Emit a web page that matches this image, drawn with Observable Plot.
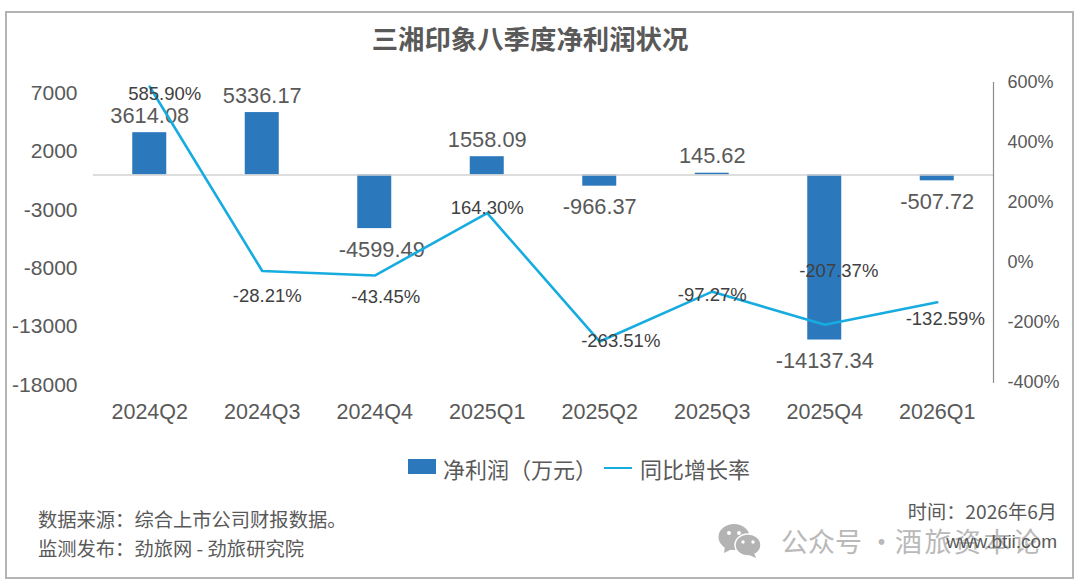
<!DOCTYPE html>
<html lang="zh">
<head>
<meta charset="utf-8">
<script src="https://cdn.jsdelivr.net/npm/d3@7"></script>
<script src="https://cdn.jsdelivr.net/npm/@observablehq/plot@0.6"></script>
<style>
  html, body { margin: 0; padding: 0; background: #fff; }
  #page { position: relative; width: 1080px; height: 584px; overflow: hidden;
    font-family: "Noto Sans CJK SC", "Liberation Sans", sans-serif; color: #595959; }
  #frame { position: absolute; left: 5px; top: 10.5px; width: 1065px; height: 564px; border: 2px solid #b4b4b4; }
  #page svg.plot { position: absolute; left: 0; top: 0; }
  .t { position: absolute; white-space: nowrap; line-height: 1; }
  #title { left: 0; width: 1060px; top: 25px; text-align: center; font-size: 26.4px; font-weight: 700; }
  .sw { position: absolute; }
</style>
</head>
<body>
<div id="page">
  <div id="frame"></div>
  <div id="chart"></div>
  <div class="t" id="title">三湘印象八季度净利润状况</div>

  <div class="sw" style="left:408px;top:459px;width:28px;height:15px;background:#2b78bd"></div>
  <div class="t" style="left:443px;top:457px;font-size:22px">净利润（万元）</div>
  <div class="sw" style="left:604px;top:466.5px;width:28px;height:2.5px;background:#17ace0"></div>
  <div class="t" style="left:640px;top:457px;font-size:22px">同比增长率</div>

  <div class="t" style="left:38px;top:510px;font-size:19.3px">数据来源：综合上市公司财报数据。</div>
  <div class="t" style="left:38px;top:539px;font-size:19.3px">监测发布：劲旅网 - 劲旅研究院</div>

  <svg class="sw" style="left:718px;top:524px" width="44" height="34" viewBox="0 0 44 34">
    <ellipse cx="16" cy="13" rx="15.5" ry="13" fill="#b3b3b3"/>
    <path d="M7 22 L6 29 L14 25 Z" fill="#b3b3b3"/>
    <ellipse cx="30" cy="21" rx="13" ry="11" fill="#b3b3b3" stroke="#fff" stroke-width="1.5"/>
    <path d="M36 29 L38 34 L31 31 Z" fill="#b3b3b3"/>
    <circle cx="11" cy="9" r="2" fill="#fff"/><circle cx="21" cy="9" r="2" fill="#fff"/>
    <circle cx="25" cy="18" r="1.7" fill="#fff"/><circle cx="35" cy="18" r="1.7" fill="#fff"/>
  </svg>
  <div class="t" style="left:781px;top:527px;font-size:27px;color:#b9b9b9"><span style="margin-right:-6px">公众号 · </span><span style="letter-spacing:2.5px">酒旅资本论</span></div>

  <div class="t" style="right:23px;top:502px;font-size:19.2px">时间：2026年6月</div>
  <div class="t" style="right:23px;top:532px;font-size:19px;font-family:'Liberation Sans',sans-serif">www.btii.com</div>
</div>
<script>
// Data
const quarters = ["2024Q2","2024Q3","2024Q4","2025Q1","2025Q2","2025Q3","2025Q4","2026Q1"];
const netProfit = [3614.08, 5336.17, -4599.49, 1558.09, -966.37, 145.62, -14137.34, -507.72];
const growthRate = [585.90, -28.21, -43.45, 164.30, -263.51, -97.27, -207.37, -132.59];
const profitTicks = [7000, 2000, -3000, -8000, -13000, -18000];
const rateTicks = [600, 400, 200, 0, -200, -400];

// Label placement relative to each point, kept apart from the values
const rateLabelNudge = [[15,7],[5,25],[11,22],[0,-5],[21,0],[0,3],[14,-54],[8,17]];
const profitLabelNudge = [[0,-17],[0,-17],[7,21],[0,-17],[0,21],[0,-17],[0,21],[0,21]];

// The right axis shares the left axis' pixel extent
const rateToProfit = d3.scaleLinear([-400, 600], [-17774, 7911]);

const rows = quarters.map((q, i) => ({
  q, profit: netProfit[i], rate: growthRate[i], rateY: rateToProfit(growthRate[i]),
  rateNudge: rateLabelNudge[i], profitNudge: profitLabelNudge[i]
}));

const latin = "'Liberation Sans', sans-serif";
const grey = "#595959";

const chart = Plot.plot({
  width: 1080, height: 584,
  marginTop: 82, marginBottom: 202, marginLeft: 93, marginRight: 87,
  style: { background: "transparent", overflow: "visible" },
  x: { type: "band", domain: quarters, label: null, padding: 0, round: false },
  y: { domain: rateToProfit.range(), label: null },
  marks: [
    Plot.barY(rows, { x: "q", y: "profit", fill: "#2b78bd", insetLeft: 39.25, insetRight: 39.25 }),
    Plot.ruleY([0], { stroke: "#d2d2d2", strokeWidth: 1.5 }),
    Plot.frame({ anchor: "right", stroke: "#8c8c8c", strokeWidth: 1.2 }),
    Plot.axisX({ anchor: "bottom", domain: quarters, tickSize: 0, tickPadding: 21, label: null,
      fontSize: 21.5, fontFamily: latin, color: grey }),
    Plot.axisY({ anchor: "left", ticks: profitTicks, tickSize: 0, tickPadding: 16, label: null,
      tickFormat: d => String(d), fontSize: 21, fontFamily: latin, color: grey }),
    Plot.axisY({ anchor: "right", ticks: rateTicks.map(rateToProfit), tickSize: 0, tickPadding: 14, label: null,
      tickFormat: d => Math.round(rateToProfit.invert(d)) + "%", fontSize: 18, fontFamily: latin, color: grey }),
    ...rows.map(d => Plot.text([d], { x: "q", y: "profit", text: r => r.profit.toFixed(2),
      dx: d.profitNudge[0], dy: d.profitNudge[1], fontSize: 21.8, fontFamily: latin, fill: grey })),
    Plot.line(rows, { x: "q", y: "rateY", stroke: "#17ace0", strokeWidth: 2.6 }),
    ...rows.map(d => Plot.text([d], { x: "q", y: "rateY", text: r => r.rate.toFixed(2) + "%",
      dx: d.rateNudge[0], dy: d.rateNudge[1], fontSize: 18.5, fontFamily: latin, fill: "#404040" }))
  ]
});
document.getElementById("chart").appendChild(chart);
</script>
</body>
</html>
